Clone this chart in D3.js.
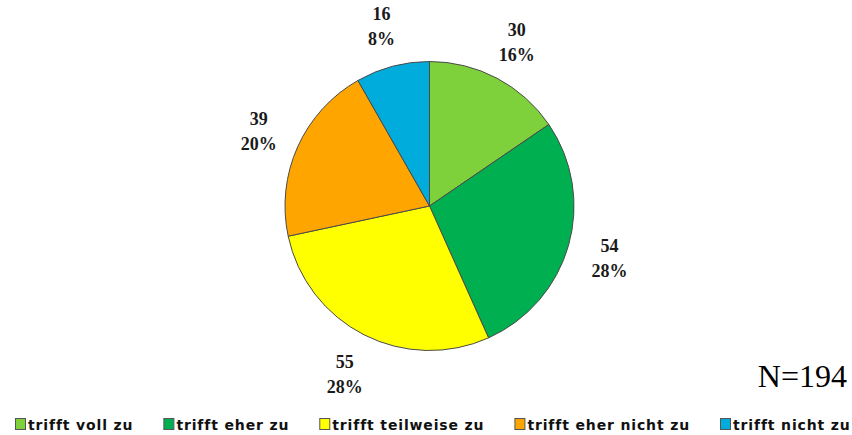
<!DOCTYPE html>
<html>
<head>
<meta charset="utf-8">
<script src="https://cdn.jsdelivr.net/npm/d3@7/dist/d3.min.js"></script>
<style>
  html, body { margin: 0; padding: 0; background: #fff; }
  svg { display: block; }
</style>
</head>
<body>
<svg id="chart" width="852" height="435"></svg>
<script>
// ---- data ----
const categories = ["trifft voll zu", "trifft eher zu", "trifft teilweise zu", "trifft eher nicht zu", "trifft nicht zu"];
const values = [30, 54, 55, 39, 16];
const colors = ["#7fd13b", "#00b050", "#ffff00", "#ffa500", "#00acdc"];
const totalLabel = "N=194";

// ---- layout ----
const cx = 429.5, cy = 206, R = 144.5;
const svg = d3.select("#chart");

// percentages rounded so they sum to 100 (largest remainder)
const total = d3.sum(values);
const raw = values.map(v => v / total * 100);
const floors = raw.map(Math.floor);
let missing = 100 - d3.sum(floors);
const order = d3.range(values.length).sort((a, b) => (raw[b] - floors[b]) - (raw[a] - floors[a]));
const pcts = floors.slice();
for (let k = 0; k < missing; k++) pcts[order[k]] += 1;

const pie = d3.pie().sort(null).value(d => d)(values);
const arc = d3.arc().innerRadius(0).outerRadius(R);
const labelArc = d3.arc().innerRadius(187).outerRadius(187);

const g = svg.append("g").attr("transform", `translate(${cx},${cy})`);

g.selectAll("path.slice")
  .data(pie)
  .join("path")
  .attr("class", "slice")
  .attr("d", arc)
  .attr("fill", (d, i) => colors[i])
  .attr("stroke", "#4a4a4a")
  .attr("stroke-width", 1);

const labels = g.selectAll("g.lbl")
  .data(pie)
  .join("g")
  .attr("class", "lbl")
  .attr("transform", d => { const [x, y] = labelArc.centroid(d); return `translate(${x},${y})`; });

labels.append("text")
  .attr("text-anchor", "middle")
  .attr("y", -5)
  .attr("font-family", "'Liberation Serif', serif")
  .attr("font-weight", "bold")
  .attr("font-size", 18)
  .attr("fill", "#1a1a1a")
  .text(d => d.data);

labels.append("text")
  .attr("text-anchor", "middle")
  .attr("y", 20)
  .attr("font-family", "'Liberation Serif', serif")
  .attr("font-weight", "bold")
  .attr("font-size", 18)
  .attr("fill", "#1a1a1a")
  .text(d => pcts[d.index] + "%");

// N label
svg.append("text")
  .attr("x", 847)
  .attr("y", 387)
  .attr("text-anchor", "end")
  .attr("font-family", "'Liberation Serif', 'Times New Roman', serif")
  .attr("font-size", 32)
  .attr("fill", "#000")
  .text(totalLabel);

// legend
const legend = svg.append("g").attr("class", "legend");
let lx = 15;
const ly = 418;
categories.forEach((c, i) => {
  const item = legend.append("g").attr("transform", `translate(${lx},0)`);
  item.append("rect")
    .attr("x", 0.5).attr("y", ly + 0.5)
    .attr("width", 10).attr("height", 11)
    .attr("fill", colors[i])
    .attr("stroke", "#555").attr("stroke-width", 1);
  const t = item.append("text")
    .attr("x", 13)
    .attr("y", ly + 12)
    .attr("font-family", "'DejaVu Sans', sans-serif")
    .attr("font-weight", "bold")
    .attr("font-size", 14)
    .attr("letter-spacing", "0.85px")
    .attr("fill", "#111")
    .text(c);
  const w = t.node().getComputedTextLength();
  lx += 13 + w + 30;
});
</script>
</body>
</html>
